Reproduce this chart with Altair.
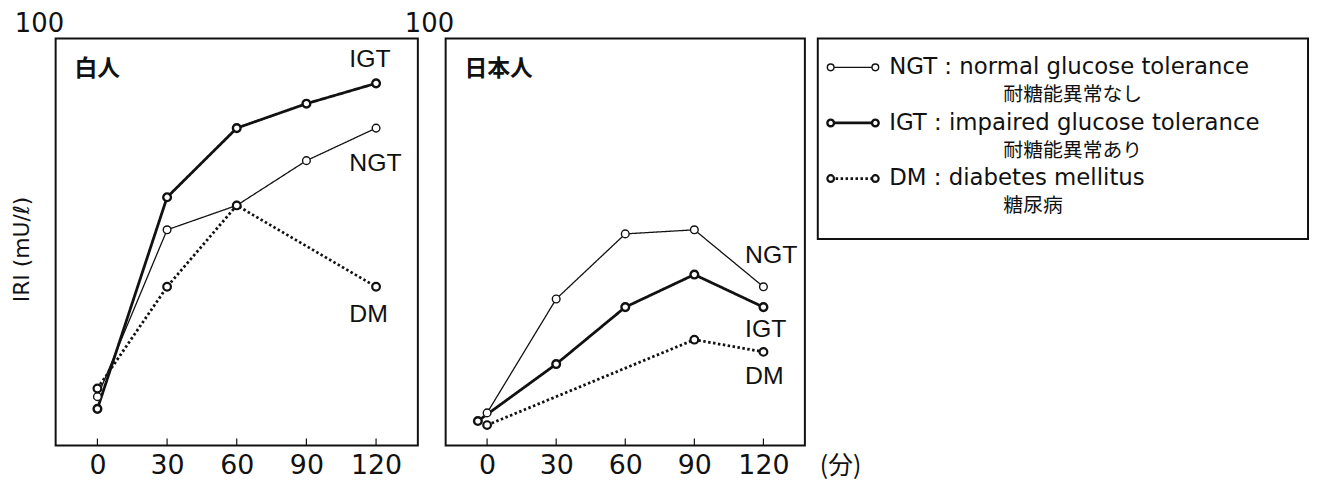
import altair as alt
import pandas as pd

# ---------------- data ----------------
tick_values = [0, 30, 60, 90, 120]

# 白人 (left panel)
w_ngt_t = [0, 30, 60, 90, 120]
w_ngt = [12, 53, 59, 70, 78]
w_igt_t = [0, 30, 60, 90, 120]
w_igt = [9, 61, 78, 84, 89]
w_dm_t = [0, 30, 60, 120]
w_dm = [14, 39, 59, 39]

# 日本人 (right panel)
j_ngt_t = [0, 30, 60, 90, 120]
j_ngt = [8, 36, 52, 53, 39]
j_igt_t = [-4, 30, 60, 90, 120]
j_igt = [6, 20, 34, 42, 34]
j_dm_t = [0, 90, 120]
j_dm = [5, 26, 23]

series = ["NGT", "IGT", "DM"]
desc_en = ["normal glucose tolerance", "impaired glucose tolerance", "diabetes mellitus"]
desc_jp = ["耐糖能異常なし", "耐糖能異常あり", "糖尿病"]

# series-label anchors (data units) for the in-plot annotations
w_lab_x = [108.5, 108.5, 108.5]
w_lab_y = [69.5, 95.0, 32.4]
j_lab_x = [112.0, 112.0, 112.0]
j_lab_y = [46.7, 28.5, 17.0]

# ---------------- styles ----------------
INK = "#111111"
line_w = {"NGT": 1.3, "IGT": 2.8, "DM": 2.8}
pt_w = {"NGT": 1.4, "IGT": 2.4, "DM": 2.2}
dash = {"NGT": [1, 0], "IGT": [1, 0], "DM": [2.5, 2.5]}
LATIN = "Liberation Sans"
DIGITS = "DejaVu Sans"
CJK = "Noto Sans CJK JP"

PW, PH = 365, 410
RW = 362

x_scale = alt.Scale(domain=[-18, 138], nice=False, zero=False)
y_scale = alt.Scale(domain=[0, 100], nice=False, zero=True)
x_axis = alt.Axis(values=tick_values, ticks=False, domain=False, grid=False,
                  labelFont=DIGITS, labelFontSize=27, labelColor=INK,
                  labelPadding=7, title=None)


def y_axis(title):
    kw = dict(values=[100], ticks=False, tickSize=0, domain=False, grid=False,
              labelFont=DIGITS, labelFontSize=26, labelColor=INK,
              labelPadding=-8, labelOffset=-15)
    if title:
        kw.update(title=title, titleFont=DIGITS, titleFontSize=22,
                  titleFontWeight="normal", titleColor=INK,
                  titleX=-34, titleY=PH / 2 + 7, titleBaseline="middle")
    else:
        kw.update(title=None)
    return alt.Axis(**kw)


def panel(title_txt, data, lab_x, lab_y, ytitle, width, unit=False):
    yax = y_axis(ytitle)
    X = lambda f: alt.X(f, type="quantitative", scale=x_scale, axis=x_axis)
    Y = lambda f: alt.Y(f, type="quantitative", scale=y_scale, axis=yax)
    layers = []
    for s in series:
        t, v = data[s]
        df = pd.DataFrame({"t": t, "v": v})
        layers.append(alt.Chart(df).mark_line(color=INK, strokeWidth=line_w[s],
                                              strokeDash=dash[s])
                      .encode(x=X("t"), y=Y("v")))
    for s in series:
        t, v = data[s]
        df = pd.DataFrame({"t": t, "v": v})
        layers.append(alt.Chart(df).mark_point(shape="circle", size=60, filled=False,
                                               fill="white", fillOpacity=1,
                                               stroke=INK, strokeWidth=pt_w[s],
                                               opacity=1)
                      .encode(x=X("t"), y=Y("v")))
    # inward tick marks on the bottom frame
    tdf = pd.DataFrame({"t": tick_values})
    layers.append(alt.Chart(tdf).mark_rule(color=INK, strokeWidth=1.2)
                  .encode(x=X("t"), y=alt.value(PH), y2=alt.value(PH - 7)))
    # series labels
    ldf = pd.DataFrame({"s": series, "lx": lab_x, "ly": lab_y})
    layers.append(alt.Chart(ldf).mark_text(font=LATIN, fontSize=25, color=INK,
                                           align="left", baseline="middle")
                  .encode(x=X("lx"), y=Y("ly"), text="s"))
    # panel title
    tdf2 = pd.DataFrame({"t": [title_txt]})
    layers.append(alt.Chart(tdf2).mark_text(font=CJK, fontSize=23, fontWeight="bold",
                                            color=INK, align="left", baseline="middle")
                  .encode(x=alt.value(19), y=alt.value(31), text="t"))
    if unit:
        udf = pd.DataFrame({"u": ["(分)"]})
        layers.append(alt.Chart(udf).mark_text(font=CJK, fontSize=25, color=INK,
                                               align="left", baseline="middle")
                      .encode(x=alt.value(width + 15), y=alt.value(PH + 21), text="u"))
    return alt.layer(*layers).properties(width=width, height=PH)


left = panel("白人",
             {"NGT": (w_ngt_t, w_ngt), "IGT": (w_igt_t, w_igt), "DM": (w_dm_t, w_dm)},
             w_lab_x, w_lab_y, "IRI  (mU/ℓ)", PW)
right = panel("日本人",
              {"NGT": (j_ngt_t, j_ngt), "IGT": (j_igt_t, j_igt), "DM": (j_dm_t, j_dm)},
              j_lab_x, j_lab_y, None, RW, unit=True)

spacer = (alt.Chart(pd.DataFrame({"a": [0]})).mark_point(opacity=0)
          .encode(x=alt.value(0), y=alt.value(0))
          .properties(width=2, height=10,
                      view=alt.ViewBackground(stroke="transparent")))

# ---------------- legend box ----------------
LW, LH = 494, 202
ldf = pd.DataFrame({
    "s": series,
    "row": [0, 1, 2],
    "en": [f"{s} : {d}" for s, d in zip(series, desc_en)],
    "jp": desc_jp,
})
ly = alt.Y("row:Q", scale=alt.Scale(domain=[-0.518, 3.089], reverse=True, nice=False,
                                    zero=False), axis=None)
leg_layers = []
for s in series:
    sub = ldf[ldf["s"] == s]
    leg_layers.append(alt.Chart(sub).mark_rule(color=INK, strokeWidth=line_w[s],
                                               strokeDash=dash[s])
                      .encode(x=alt.value(13), x2=alt.value(58), y=ly))
    for px in (13, 58):
        leg_layers.append(alt.Chart(sub).mark_point(shape="circle", size=45, filled=False,
                                                    fill="white", fillOpacity=1,
                                                    stroke=INK, strokeWidth=pt_w[s],
                                                    opacity=1)
                          .encode(x=alt.value(px), y=ly))
leg_layers.append(alt.Chart(ldf).mark_text(font=DIGITS, fontSize=23, color=INK,
                                           align="left", baseline="middle")
                  .encode(x=alt.value(72), y=ly, text="en"))
leg_layers.append(alt.Chart(ldf).mark_text(font=CJK, fontSize=20, color=INK,
                                           align="left", baseline="middle", dy=28)
                  .encode(x=alt.value(187), y=ly, text="jp"))
legend = alt.layer(*leg_layers).properties(width=LW, height=LH)

chart = (alt.hconcat(left, spacer, right, legend, spacing=13, bounds="flush")
         .properties(padding={"left": 2, "top": 0, "right": 2, "bottom": 0})
         .configure(background="white")
         .configure_view(stroke=INK, strokeWidth=2))

chart.save("out.html", embed_options={"renderer": "svg", "actions": False})
